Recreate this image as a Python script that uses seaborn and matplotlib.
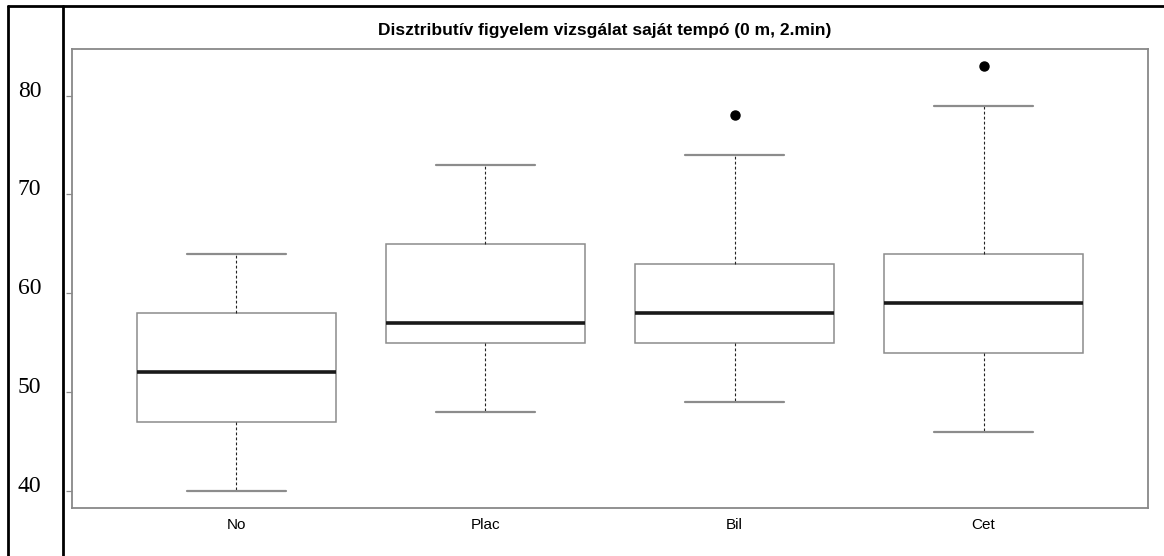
import numpy as np
import pandas as pd
import matplotlib
matplotlib.use("Agg")
import matplotlib.pyplot as plt
from matplotlib.lines import Line2D
from matplotlib.transforms import ScaledTranslation
import seaborn as sns

# Five-number summaries per group (test score), plus outlying points
groups = ["No", "Plac", "Bil", "Cet"]
lower_whisker = [40, 48, 49, 46]
q1 = [47, 55, 55, 54]
median = [52, 57, 58, 59]
q3 = [58, 65, 63, 64]
upper_whisker = [64, 73, 74, 79]
outliers = [[], [], [78], [83]]
y_ticks = [40, 50, 60, 70, 80]
title = "Disztributív figyelem vizsgálat saját tempó (0 m, 2.min)"

# Build a long table whose quartiles reproduce the summaries above
rows = []
for g, lo, a, m, b, hi, out in zip(groups, lower_whisker, q1, median, q3,
                                    upper_whisker, outliers):
    for v in [lo, a, a, m, m, b, b, hi] + list(out):
        rows.append({"group": g, "score": v})
df = pd.DataFrame(rows)

sns.set_style("white")
plt.rcParams["font.family"] = ["Liberation Sans", "DejaVu Sans"]
plt.rcParams["text.color"] = "black"
plt.rcParams["xtick.color"] = "black"
plt.rcParams["ytick.color"] = "black"

W, H = 1164, 556
fig = plt.figure(figsize=(W / 100, H / 100), dpi=100)
ax = fig.add_axes([72 / W, 1 - 508 / H, (1148 - 72) / W, (508 - 49) / H])

edge = "#8c8c8c"
sns.boxplot(
    data=df, x="group", y="score", order=groups, ax=ax,
    width=0.8, color="white", linecolor=edge, linewidth=1.1, whis=1.5,
    boxprops=dict(facecolor="white", edgecolor=edge, linewidth=1.1),
    whiskerprops=dict(color="#222222", linestyle=(0, (2.5, 2)), linewidth=0.8),
    capprops=dict(color=edge, linewidth=1.6),
    medianprops=dict(color="#1a1a1a", linewidth=2.6),
    flierprops=dict(marker="o", markerfacecolor="black",
                    markeredgecolor="black", markersize=6.5),
)

ax.set_xlim(-0.66, 3.66)
ax.set_ylim(38.28, 84.72)
ax.set_xlabel("")
ax.set_ylabel("")
ax.set_yticks(y_ticks)
ax.set_yticklabels([str(t) for t in y_ticks], family="Liberation Serif",
                   fontsize=17, color="black")
ax.tick_params(axis="y", length=4, width=0.9, color="#8c8c8c", pad=18,
               left=True)
ax.tick_params(axis="x", length=0, pad=7, labelsize=11, labelcolor="black")
for lab in ax.get_yticklabels():
    lab.set_transform(lab.get_transform() +
                      ScaledTranslation(0, 7 / 100, fig.dpi_scale_trans))

for s in ax.spines.values():
    s.set_visible(True)
    s.set_color("#888888")
    s.set_linewidth(1.3)

ax.set_title(title, fontsize=12.5, fontweight="bold", pad=10, color="black",
             x=(605 - 72) / (1148 - 72))

# Surrounding table frame
def fig_line(x0, y0, x1, y1, lw=2.0):
    fig.add_artist(Line2D([x0 / W, x1 / W], [1 - y0 / H, 1 - y1 / H],
                          transform=fig.transFigure, color="black", lw=lw))

fig_line(8, 6, W, 6)
fig_line(8, 6, 8, H)
fig_line(63, 6, 63, H)

fig.savefig("out.png", dpi=100)
